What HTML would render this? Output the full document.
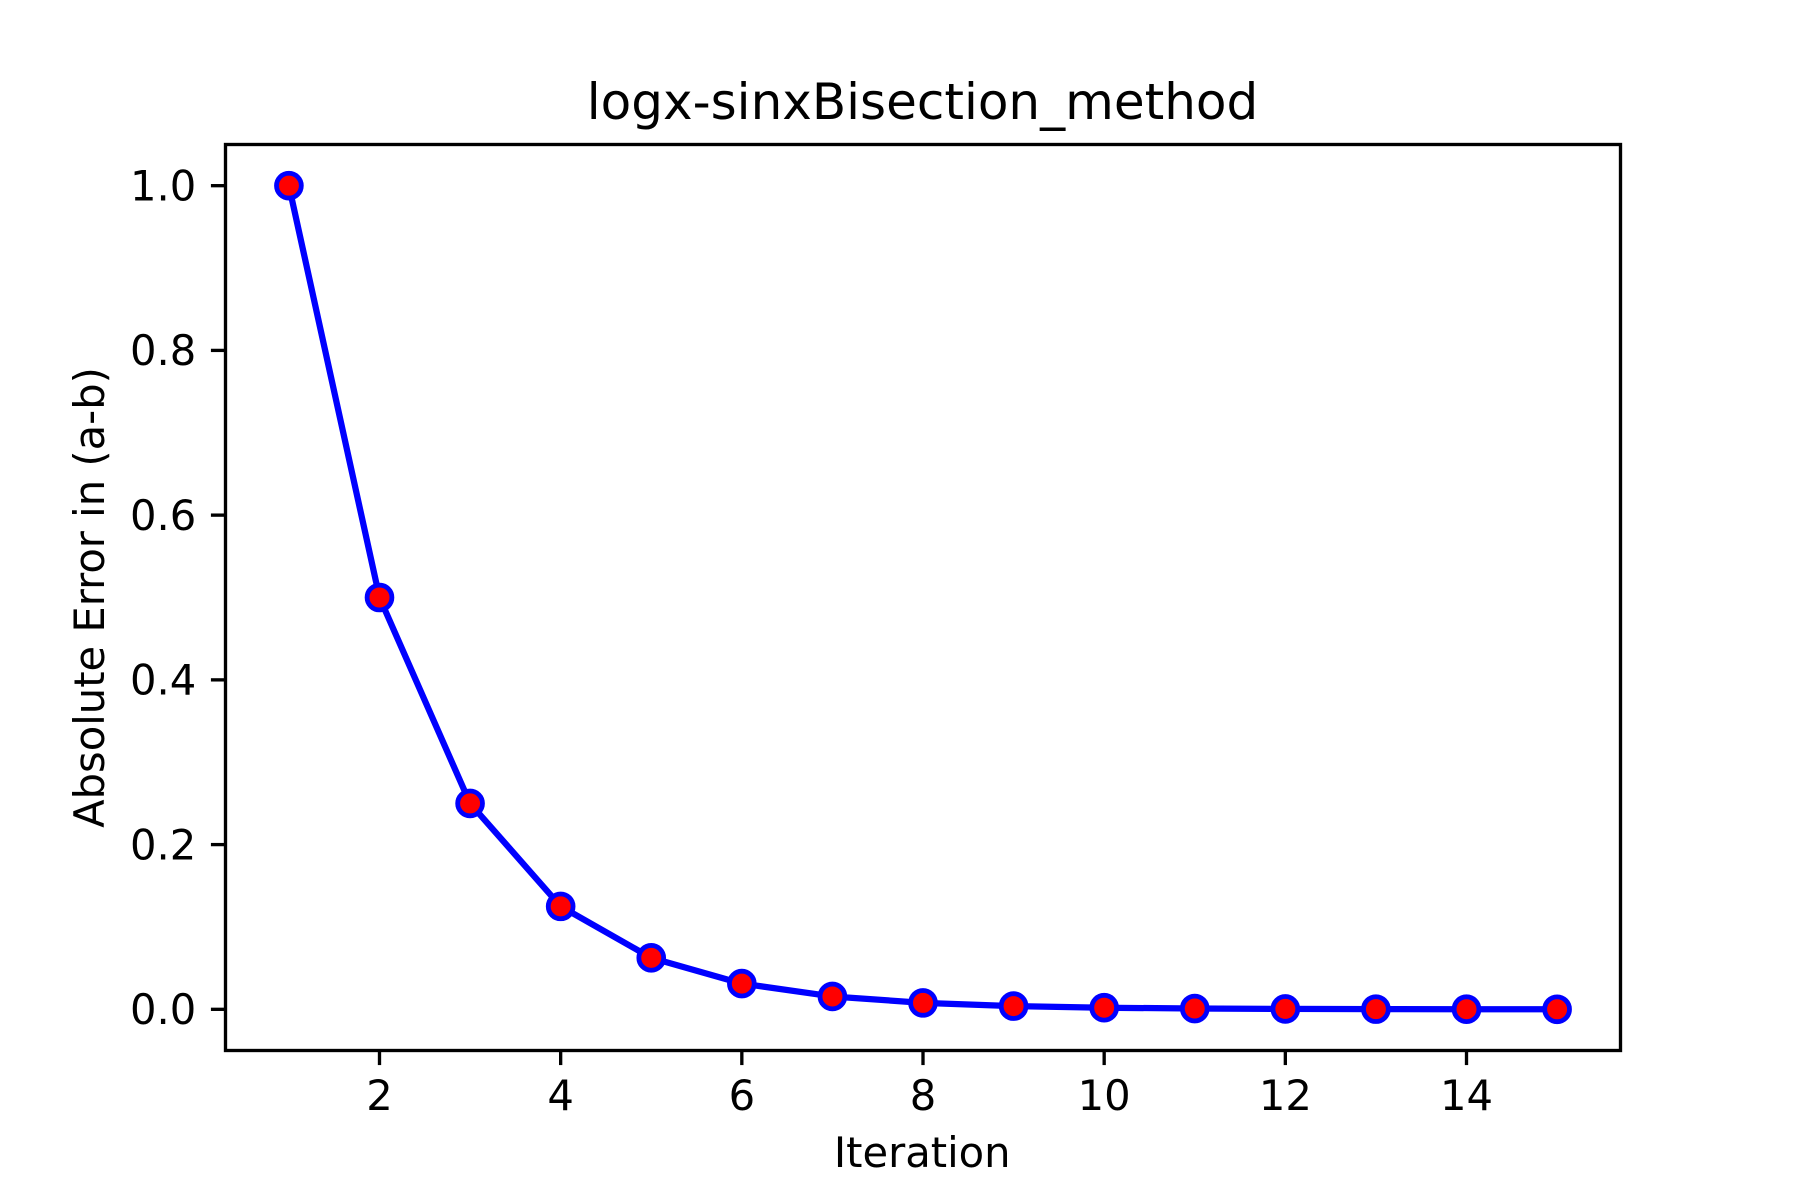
<!DOCTYPE html>
<html lang="en">
<head>
<meta charset="utf-8">
<title>logx-sinxBisection_method</title>
<style>
  html, body { margin: 0; padding: 0; background: #ffffff; }
  body { width: 1800px; height: 1200px; overflow: hidden; }
  svg { display: block; }
  text { font-family: "DejaVu Sans", "Liberation Sans", sans-serif; fill: #000000; }
</style>
</head>
<body>
<svg id="chart" xmlns="http://www.w3.org/2000/svg" width="1800" height="1200" viewBox="0 0 1800 1200">
  <rect x="0" y="0" width="1800" height="1200" fill="#ffffff"></rect>
  <rect x="225.5" y="144.5" width="1395" height="906" fill="#ffffff"></rect>
  <g id="ticks"></g>
  <g id="series"></g>
  <rect x="225.5" y="144.5" width="1395" height="906" fill="none" stroke="#000000" stroke-width="3.33"></rect>
  <text x="922.5" y="119" font-size="50" text-anchor="middle">logx-sinxBisection_method</text>
  <text x="922.2" y="1167" font-size="41.67" text-anchor="middle">Iteration</text>
  <text x="104" y="597.5" font-size="41.67" text-anchor="middle" transform="rotate(-90 104 597.5)">Absolute Error in (a-b)</text>
</svg>
<script>
const iterations = [1, 2, 3, 4, 5, 6, 7, 8, 9, 10, 11, 12, 13, 14, 15];
const absoluteErrors = [1, 0.5, 0.25, 0.125, 0.0625, 0.03125, 0.015625, 0.0078125, 0.00390625, 0.001953125, 0.0009765625, 0.00048828125, 0.000244140625, 0.0001220703125, 0.00006103515625];
const xTickValues = [2, 4, 6, 8, 10, 12, 14];
const xTickLabels = ['2', '4', '6', '8', '10', '12', '14'];
const yTickValues = [0, 0.2, 0.4, 0.6, 0.8, 1];
const yTickLabels = ['0.0', '0.2', '0.4', '0.6', '0.8', '1.0'];

const SVG_NS = 'http://www.w3.org/2000/svg';
const plotLeft = 225.5;
const plotRight = 1620.5;
const plotTop = 144.5;
const plotBottom = 1050.5;
const xDomain = [0.3, 15.7];
const yDomain = [-0.05, 1.05];

function xScale(value) {
  return plotLeft + (value - xDomain[0]) / (xDomain[1] - xDomain[0]) * (plotRight - plotLeft);
}

function yScale(value) {
  return plotBottom - (value - yDomain[0]) / (yDomain[1] - yDomain[0]) * (plotBottom - plotTop);
}

function make(tag, attrs, parent) {
  const el = document.createElementNS(SVG_NS, tag);
  Object.keys(attrs).forEach(function (key) {
    el.setAttribute(key, attrs[key]);
  });
  parent.appendChild(el);
  return el;
}

const tickLayer = document.getElementById('ticks');
const seriesLayer = document.getElementById('series');

xTickValues.forEach(function (value, i) {
  const x = xScale(value);
  const mark = make('line', { x1: x, x2: x, y1: plotBottom, y2: plotBottom + 14.58, stroke: '#000000', 'stroke-width': 3.33 }, tickLayer);
  
  
  const label = make('text', { x: x, y: 1110, 'font-size': 41.67, 'text-anchor': 'middle' }, tickLayer);
  label.textContent = xTickLabels[i];
  
  
});

yTickValues.forEach(function (value, i) {
  const y = yScale(value);
  const mark = make('line', { x1: plotLeft - 14.58, x2: plotLeft, y1: y, y2: y, stroke: '#000000', 'stroke-width': 3.33 }, tickLayer);
  
  
  const label = make('text', { x: 196.3, y: y + 14.7, 'font-size': 41.67, 'text-anchor': 'end' }, tickLayer);
  label.textContent = yTickLabels[i];
  
  
});

const linePoints = iterations.map(function (iteration, i) {
  return xScale(iteration) + ',' + yScale(absoluteErrors[i]);
}).join(' ');
const errorLine = make('polyline', { points: linePoints, fill: 'none', stroke: '#0000ff', 'stroke-width': 6.25, 'stroke-linejoin': 'round', 'stroke-linecap': 'square' }, seriesLayer);



iterations.forEach(function (iteration, i) {
  const point = make('circle', { cx: xScale(iteration), cy: yScale(absoluteErrors[i]), r: 12.4, fill: '#ff0000', stroke: '#0000ff', 'stroke-width': 4.8 }, seriesLayer);
  
  
});
</script>
</body>
</html>
